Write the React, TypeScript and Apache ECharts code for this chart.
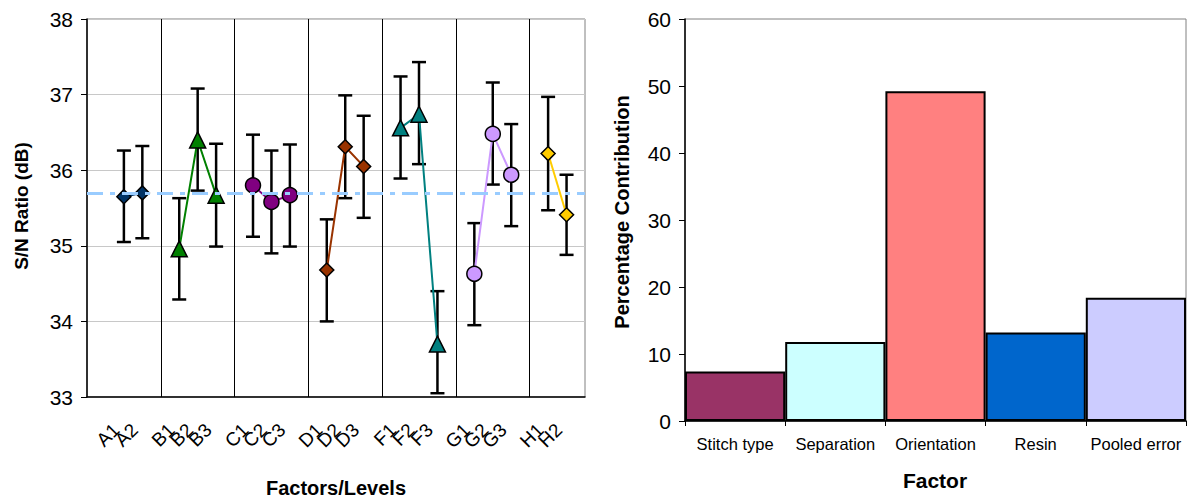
import React, { useEffect, useRef } from "react";
import * as echarts from "echarts";

// ---- Left chart: S/N ratio per factor level ----
const slotLabels = ["", "", "A1", "A2", "", "B1", "B2", "B3", "", "C1", "C2", "C3", "", "D1", "D2", "D3", "", "F1", "F2", "F3", "", "G1", "G2", "G3", "", "H1", "H2", ""];
const separatorSlots = [4, 8, 12, 16, 20, 24];
const levelLabels = ["A1", "A2", "B1", "B2", "B3", "C1", "C2", "C3", "D1", "D2", "D3", "F1", "F2", "F3", "G1", "G2", "G3", "H1", "H2"];
const snMean = [35.65, 35.70, 34.96, 36.40, 35.67, 35.80, 35.58, 35.67, 34.68, 36.31, 36.05, 36.56, 36.74, 33.70, 34.63, 36.48, 35.94, 36.22, 35.41];
const snLower = [35.05, 35.10, 34.29, 35.73, 34.99, 35.12, 34.90, 34.99, 34.00, 35.63, 35.37, 35.89, 36.08, 33.05, 33.95, 35.81, 35.26, 35.47, 34.88];
const snUpper = [36.26, 36.32, 35.63, 37.08, 36.35, 36.47, 36.26, 36.34, 35.35, 36.99, 36.72, 37.24, 37.43, 34.40, 35.30, 37.16, 36.61, 36.97, 35.94];
const overallMean = 35.69;
const factors = ["A", "B", "C", "D", "F", "G", "H"];
const factorColors = ["#003366", "#008000", "#800080", "#993300", "#008080", "#CC99FF", "#FFCC00"];
const factorSymbols = ["diamond", "triangle", "circle", "diamond", "triangle", "circle", "diamond"];
const snTicks = [33, 34, 35, 36, 37, 38];

// ---- Right chart: percentage contribution ----
const contribFactors = ["Stitch type", "Separation", "Orientation", "Resin", "Pooled error"];
const contribValues = [7.4, 11.8, 49.2, 13.2, 18.4];
const contribColors = ["#993366", "#CCFFFF", "#FF8080", "#0066CC", "#CCCCFF"];
const contribTicks = [0, 10, 20, 30, 40, 50, 60];

const FONT = "Liberation Sans, Arial, sans-serif";

export default function App() {
  const ref = useRef<HTMLDivElement>(null);
  useEffect(() => {
    if (!ref.current) return;
    const chart = echarts.init(ref.current, null, { renderer: "svg" });

    const slotOf = (label: string) => slotLabels.indexOf(label);

    const lineSeries = factors.map((f, fi) => {
      const data: (number | null)[] = slotLabels.map(() => null);
      levelLabels.forEach((lab, i) => {
        if (lab[0] === f) data[slotOf(lab)] = snMean[i];
      });
      return {
        type: "line",
        name: f,
        xAxisIndex: 0,
        yAxisIndex: 0,
        data,
        connectNulls: false,
        symbol: factorSymbols[fi],
        symbolSize: factorSymbols[fi] === "triangle" ? 16 : factorSymbols[fi] === "circle" ? 15 : 14,
        lineStyle: { color: factorColors[fi], width: 2 },
        itemStyle: { color: factorColors[fi], borderColor: "#000", borderWidth: 1.5 },
        z: 4,
      };
    });

    const errData = levelLabels.map((lab, i) => [slotOf(lab), snLower[i], snUpper[i]]);

    const option: any = {
      animation: false,
      textStyle: { fontFamily: FONT },
      grid: [
        { left: 87, right: 603, top: 19, bottom: 104, show: true, borderColor: "#808080", borderWidth: 1 },
        { left: 685, right: 2, top: 19, bottom: 80, show: true, borderColor: "#808080", borderWidth: 1 },
      ],
      xAxis: [
        {
          type: "category",
          gridIndex: 0,
          data: slotLabels,
          boundaryGap: false,
          axisLine: { lineStyle: { color: "#000", width: 1.5 } },
          axisTick: { show: false },
          axisLabel: { interval: 0, rotate: 45, fontSize: 19, color: "#000", fontFamily: FONT, margin: 22, padding: [0, 11, 0, 0] },
          splitLine: {
            show: true,
            interval: (index: number) => separatorSlots.indexOf(index) >= 0,
            lineStyle: { color: "#000", width: 1 },
          },
        },
        {
          type: "category",
          gridIndex: 1,
          data: contribFactors,
          axisLine: { lineStyle: { color: "#000", width: 1.5 } },
          axisTick: { show: true, length: 5, lineStyle: { color: "#000" } },
          axisLabel: { interval: 0, fontSize: 16.5, color: "#000", fontFamily: FONT, margin: 14 },
        },
      ],
      yAxis: [
        {
          type: "value",
          gridIndex: 0,
          min: snTicks[0],
          max: snTicks[snTicks.length - 1],
          interval: 1,
          axisLine: { show: true, lineStyle: { color: "#000", width: 1.5 } },
          axisTick: { show: true, length: 6, lineStyle: { color: "#000" } },
          axisLabel: { fontSize: 21, color: "#000", fontFamily: FONT, margin: 14 },
          splitLine: { show: true, lineStyle: { color: "#C8C8C8", width: 1 } },
        },
        {
          type: "value",
          gridIndex: 1,
          min: contribTicks[0],
          max: contribTicks[contribTicks.length - 1],
          interval: 10,
          axisLine: { show: true, lineStyle: { color: "#000", width: 1.5 } },
          axisTick: { show: true, length: 6, lineStyle: { color: "#000" } },
          axisLabel: { fontSize: 21, color: "#000", fontFamily: FONT, margin: 14 },
          splitLine: { show: false },
        },
      ],
      series: [
        {
          type: "custom",
          xAxisIndex: 0,
          yAxisIndex: 0,
          data: errData,
          z: 3,
          renderItem: (params: any, api: any) => {
            const x = api.value(0);
            const lo = api.coord([x, api.value(1)]);
            const hi = api.coord([x, api.value(2)]);
            const hw = 7;
            const st = { stroke: "#000", lineWidth: 2.5 };
            return {
              type: "group",
              children: [
                { type: "line", shape: { x1: lo[0], y1: lo[1], x2: hi[0], y2: hi[1] }, style: st },
                { type: "line", shape: { x1: lo[0] - hw, y1: lo[1], x2: lo[0] + hw, y2: lo[1] }, style: st },
                { type: "line", shape: { x1: hi[0] - hw, y1: hi[1], x2: hi[0] + hw, y2: hi[1] }, style: st },
              ],
            };
          },
          markLine: {
            silent: true,
            symbol: "none",
            label: { show: false },
            lineStyle: { color: "#99CCFF", width: 3, type: [16, 7, 5, 7] },
            data: [{ yAxis: overallMean }],
          },
        },
        ...lineSeries,
        {
          type: "bar",
          xAxisIndex: 1,
          yAxisIndex: 1,
          barCategoryGap: "0%",
          data: contribValues.map((v, i) => ({
            value: v,
            itemStyle: { color: contribColors[i], borderColor: "#000", borderWidth: 2 },
          })),
        },
      ],
      graphic: [
        {
          type: "text",
          x: 21,
          y: 206,
          rotation: Math.PI / 2,
          style: { text: "S/N Ratio (dB)", font: `bold 19px ${FONT}`, fill: "#000", align: "center", verticalAlign: "middle" },
        },
        {
          type: "text",
          x: 336,
          y: 488,
          style: { text: "Factors/Levels", font: `bold 20px ${FONT}`, fill: "#000", align: "center", verticalAlign: "middle" },
        },
        {
          type: "text",
          x: 622,
          y: 212,
          rotation: Math.PI / 2,
          style: { text: "Percentage Contribution", font: `bold 20px ${FONT}`, fill: "#000", align: "center", verticalAlign: "middle" },
        },
        {
          type: "text",
          x: 935,
          y: 480,
          style: { text: "Factor", font: `bold 21px ${FONT}`, fill: "#000", align: "center", verticalAlign: "middle" },
        },
      ],
    };
    chart.setOption(option);
    return () => chart.dispose();
  }, []);
  return <div ref={ref} style={{ position: "fixed", left: 0, top: 0, width: 1188, height: 501, background: "#fff" }} />;
}
